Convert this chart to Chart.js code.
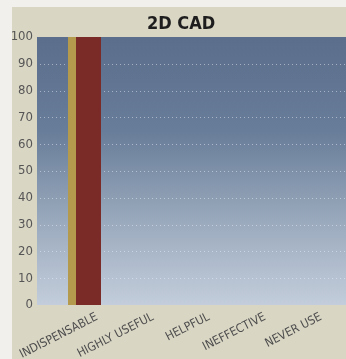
<!DOCTYPE html>
<html>
<head>
<meta charset="utf-8">
<script src="https://cdn.jsdelivr.net/npm/chart.js@4/dist/chart.umd.min.js"></script>
<style>
  html, body { margin: 0; padding: 0; background: #f1f0ec; }
  #wrap { width: 346px; height: 359px; }
</style>
</head>
<body>
<div id="wrap"><canvas id="cadChart" width="346" height="359"></canvas></div>
<script>
// Ratings for 2D CAD, percent of respondents
const categories = ['INDISPENSABLE', 'HIGHLY USEFUL', 'HELPFUL', 'INEFFECTIVE', 'NEVER USE'];
const goldValues = [100, 0, 0, 0, 0];
const redValues = [100, 0, 0, 0, 0];
const yMin = 0;
const yMax = 100;
const yStep = 10;

const PLOT_LEFT = 37;
const labelFont = "'DejaVu Sans Condensed', 'DejaVu Sans', sans-serif";

// paints the page panel, the plot gradient and the dotted grid
const backdrop = {
    id: 'backdrop',
    beforeDraw(chart) {
        const ctx = chart.ctx;
        const area = chart.chartArea;
        const w = chart.width;
        ctx.save();
        ctx.fillStyle = '#f1f0ec';
        ctx.fillRect(0, 0, w, chart.height);
        ctx.fillStyle = '#d9d6c4';
        ctx.fillRect(12, 7, w - 12, chart.height - 7);

        const grad = ctx.createLinearGradient(0, area.top, 0, area.bottom);
        grad.addColorStop(0, '#5b6e8c');
        grad.addColorStop(0.35, '#687d99');
        grad.addColorStop(0.7, '#9cabbe');
        grad.addColorStop(1, '#c3cddb');
        ctx.fillStyle = grad;
        ctx.fillRect(PLOT_LEFT, area.top, w - PLOT_LEFT, area.bottom - area.top);

        const y = chart.scales.y;
        ctx.strokeStyle = 'rgba(235, 240, 248, 0.5)';
        ctx.lineWidth = 1;
        ctx.setLineDash([1, 3]);
        y.ticks.forEach(t => {
            if (t.value === yMin || t.value === yMax) return;
            const py = Math.round(y.getPixelForValue(t.value)) + 0.5;
            ctx.beginPath();
            ctx.moveTo(PLOT_LEFT + 3, py);
            ctx.lineTo(w, py);
            ctx.stroke();
        });
        ctx.restore();
    }
};

new Chart(document.getElementById('cadChart'), {
    type: 'bar',
    data: {
        labels: categories,
        datasets: [
            {
                label: 'Gold',
                data: goldValues,
                backgroundColor: '#b39a4c',
                borderWidth: 0,
                inflateAmount: 0,
                barThickness: 8
            },
            {
                label: 'Red',
                data: redValues,
                backgroundColor: '#7a2b27',
                borderWidth: 0,
                inflateAmount: 0,
                barThickness: 25
            }
        ]
    },
    options: {
        responsive: false,
        animation: false,
        layout: {
            padding: { left: 11, right: -5, top: 0, bottom: 0 }
        },
        plugins: {
            legend: { display: false },
            tooltip: { enabled: false },
            title: {
                display: true,
                text: '2D CAD',
                color: '#1e1e1e',
                font: { family: labelFont, size: 18, weight: 'bold', lineHeight: 1 },
                padding: { top: 15, bottom: 4 }
            }
        },
        scales: {
            x: {
                offset: true,
                grid: { display: false, drawTicks: false },
                border: { display: false },
                ticks: {
                    color: '#4d4d4d',
                    autoSkip: false,
                    minRotation: 27,
                    maxRotation: 27,
                    labelOffset: 21,
                    padding: 5,
                    font: { family: labelFont, size: 12 }
                },
                afterFit(scale) {
                    scale.height = 54;
                    scale.paddingLeft = 0;
                    scale.paddingRight = 0;
                }
            },
            y: {
                min: yMin,
                max: yMax,
                grid: { display: false, drawTicks: false },
                border: { display: false },
                ticks: {
                    stepSize: yStep,
                    autoSkip: false,
                    color: '#555555',
                    padding: 15,
                    font: { family: labelFont, size: 13 }
                },
                afterFit(scale) {
                    scale.width = 37;
                    scale.paddingTop = 0;
                    scale.paddingBottom = 0;
                }
            },
            // empty right margin so the category spacing matches the picture
            yRight: {
                position: 'right',
                min: yMin,
                max: yMax,
                grid: { display: false, drawTicks: false },
                border: { display: false },
                ticks: { display: false },
                afterFit(scale) {
                    scale.width = 23;
                }
            }
        }
    },
    plugins: [backdrop]
});
</script>
</body>
</html>
